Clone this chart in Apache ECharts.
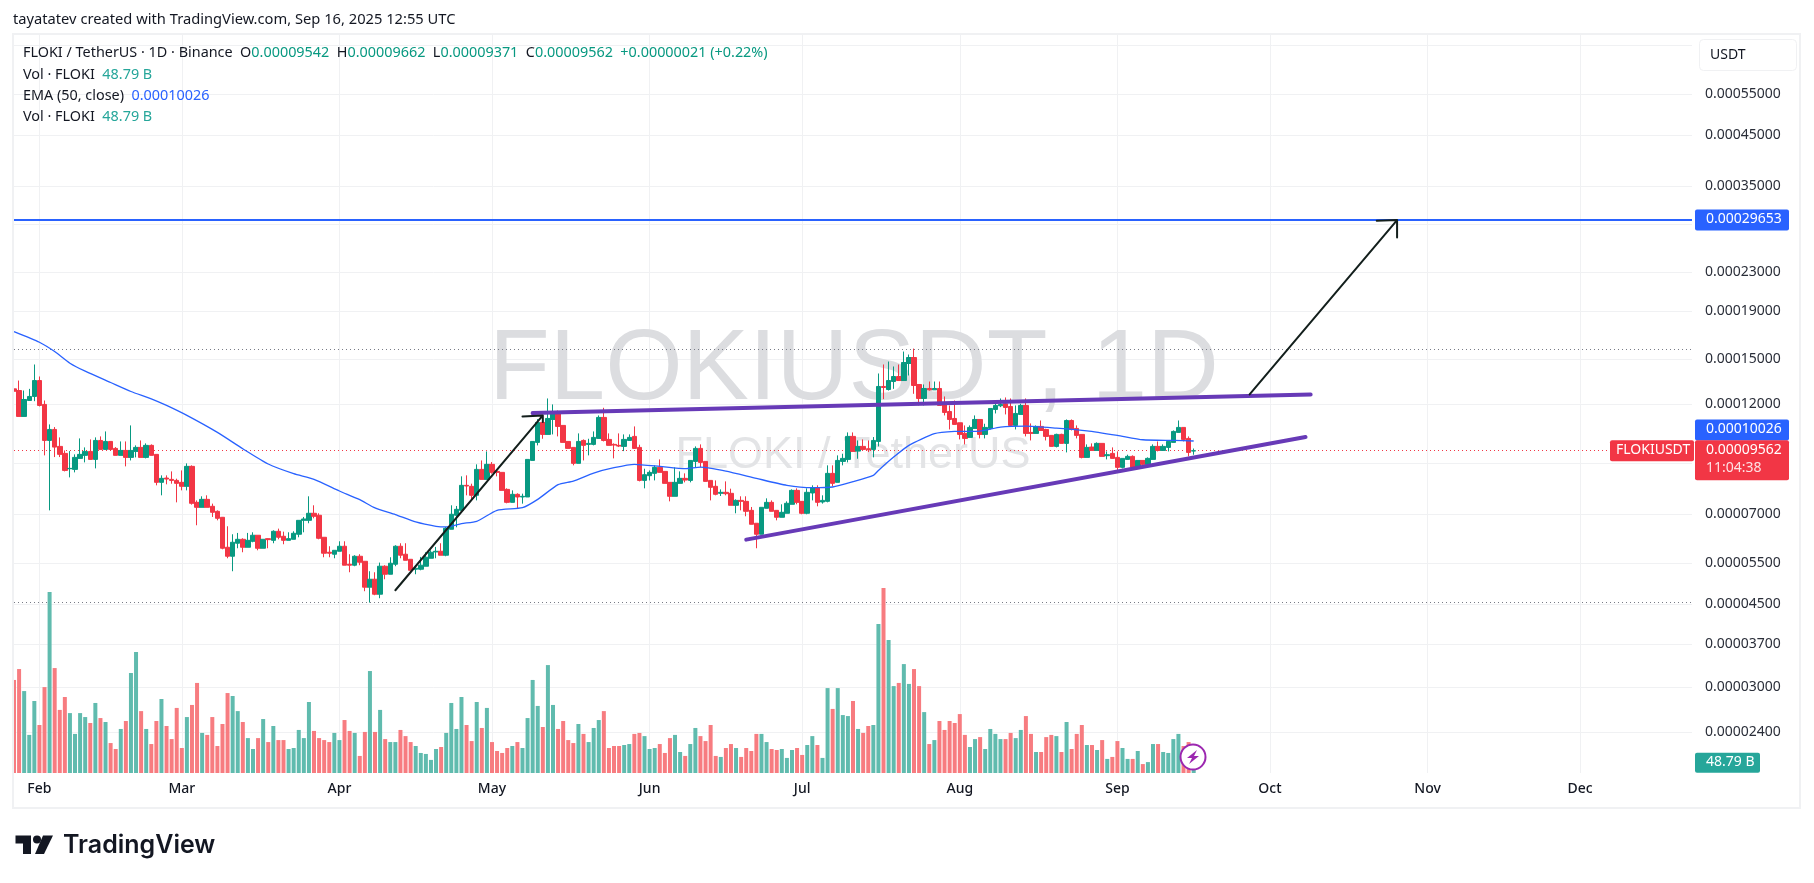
<!DOCTYPE html>
<html>
<head>
<meta charset="utf-8">
<title>FLOKIUSDT 1D</title>
<script src="https://cdn.jsdelivr.net/npm/echarts@6/dist/echarts.min.js"></script>
<style>
  html, body { margin: 0; padding: 0; background: #fff; }
  #line { width: 1814px; height: 883px; }
</style>
</head>
<body>
<div id="line"></div>
<script>
// prices are in units of 0.00000001, candle 0 is Jan 27 2025, last candle Sep 16
var openP = [12950,12845,11311,12231,12477,13490,11997,10053,10611,9764,9434,8750,
  8722,9206,9343,9526,9160,10053,9620,10005,9668,9343,9572,9251,
  9526,9716,9251,9813,9389,8184,8360,8304,8263,8184,8026,8852,
  7419,7240,7529,7276,7099,6894,5951,5694,6069,6188,5951,6128,
  6312,5922,6208,6157,6436,6281,6157,6188,6343,6792,6792,7031,
  6963,6250,5807,5751,5835,5981,5475,5449,5694,5555,4892,5086,
  4726,5422,5213,5475,5981,5751,5610,5342,5342,5422,5638,5816,
  5835,5723,6500,6963,7133,8065,8026,7679,8722,8304,8940,8636,
  8595,7907,7419,7717,7617,7617,9114,9957,10982,10356,11144,11478,
  10823,10005,9716,8983,10053,9861,9861,10154,11256,10104,9861,9813,
  9764,10053,10255,9716,8263,8456,8553,8809,8636,8184,7642,8144,
  8346,8263,9070,9668,9070,8263,8026,7755,7793,7755,7312,7491,
  7455,7133,6695,6343,7205,7419,7133,6894,7031,7348,7868,7455,
  7031,7768,7960,7431,7455,8553,8184,9070,9160,10255,9541,9764,
  9652,9620,10005,13103,12909,13425,13761,13490,14667,15104,13232,12354,
  12974,12888,12974,11997,11589,11200,10964,10407,10205,10664,11144,10356,
  10664,11704,11918,12036,11879,10823,11423,11938,10457,10407,10770,10611,
  10306,9764,10356,9909,11088,10664,10356,9251,9732,9572,9909,9328,
  9434,9251,8809,9160,9297,8809,9114,8940,9160,9764,9572,9716,
  9957,10457,10717,10154,9542];
var highP = [13060,13490,12845,12950,14595,13761,12231,10876,10735,10205,9572,9540,
  9389,10154,9716,10104,10205,10255,10508,10005,9730,10005,10005,10823,
  9813,10053,9909,9861,9389,8470,8470,8636,8332,8678,8983,8896,
  7491,7642,7679,7372,7133,6905,6597,6343,6385,6219,6385,6405,
  6312,6188,6219,6467,6521,6425,6405,6436,6792,6905,7642,7312,
  7031,6250,5981,5863,6128,6128,5751,5723,5751,5555,5290,5264,
  5520,5449,5666,6010,6069,6069,5610,5449,5675,5807,5863,5961,
  6069,6575,7312,7288,8429,8470,8130,8940,9114,9526,9041,8722,
  8595,7947,7868,7755,7742,9160,10005,11163,11274,12354,11997,11645,
  10823,10005,9716,10407,10104,10137,10508,11367,11801,10407,9909,10407,
  10356,10356,10770,9845,8751,8678,8896,9160,8636,8184,8809,8636,
  8553,9114,9764,9861,9070,8263,8263,7907,8223,7934,7529,7642,
  7642,7252,6695,7240,7566,7491,7133,7348,7455,7907,7947,7455,
  7947,8065,8065,7679,8896,8896,9343,9419,10457,10457,10053,10104,
  10053,10222,13965,14595,14809,14453,14595,15552,15328,15780,13232,13232,
  13425,13425,13425,12477,11938,12231,10964,10823,10823,11367,11144,10911,
  11762,12231,12354,12415,12354,11938,12036,12354,10929,10823,11088,10646,
  10306,10390,10390,11144,11144,10823,10356,9861,9909,9957,9909,9526,
  9716,9526,9206,9374,9343,9114,9114,9251,9861,10005,9861,10005,
  10558,11088,10717,10255,9662];
var lowP = [11590,11311,11311,12231,12190,11879,9343,7133,9265,9265,8636,8387,
  8595,9206,9027,9160,8765,9620,9620,9572,9343,9343,8852,9114,
  9251,9251,9206,9343,8065,7679,8105,8130,7419,7868,7868,7336,
  6630,7240,7240,6905,6792,5892,5638,5290,5922,5807,5951,6098,
  5863,5922,5922,6069,6188,6040,6157,6188,6250,6405,6695,6860,
  6188,5666,5666,5638,5835,5449,5264,5422,5449,4796,4536,4703,
  4634,5086,5213,5422,5638,5582,5315,5213,5315,5422,5638,5638,
  5723,5694,6500,6565,7133,7679,7529,7491,8304,8304,8540,8429,
  7868,7384,7419,7205,7372,7617,9114,9813,10137,10356,10356,10255,
  9957,9668,8896,8983,9114,9343,9813,10154,10005,9813,9206,9732,
  9541,10053,9668,8223,7947,8263,8263,8595,8144,7455,7642,8144,
  8184,8184,8809,8809,8223,7491,7679,7654,7679,7312,7031,7133,
  6928,6662,5922,6343,7205,7099,6792,6894,7031,7348,7348,6997,
  6997,7491,7276,7372,7419,8026,8184,8896,9027,9526,9190,9572,
  9495,9251,9764,12313,12845,12952,13490,13490,13829,12640,11938,11938,
  12845,12888,11938,11367,10611,10876,10104,9861,10205,10664,10154,10154,
  10611,11478,11840,11423,10770,10611,11423,10255,10053,10407,10558,10053,
  9764,9716,9909,9480,10558,10154,9206,9251,9572,9572,9297,9160,
  9206,8622,8765,9160,8765,8809,8896,8940,9160,9526,9572,9526,
  9957,10457,10005,9297,9371];
var closeP = [12800,11311,12292,12477,13490,11938,10053,10611,9730,9389,8678,8765,
  9251,9389,9526,9160,10053,9620,10005,9620,9343,9572,9251,9572,
  9716,9251,9813,9343,8184,8346,8318,8263,8144,8026,8852,7384,
  7240,7529,7240,7065,6860,5922,5694,6098,6188,5951,6157,6312,
  5922,6188,6178,6436,6250,6157,6208,6374,6792,6837,7031,6928,
  6219,5779,5779,5863,5981,5449,5449,5694,5529,4892,5086,4726,
  5422,5213,5502,5981,5723,5582,5315,5368,5449,5666,5807,5835,
  5723,6532,6997,7169,8065,8039,7679,8722,8304,8940,8595,8595,
  7868,7419,7717,7617,7642,9160,10005,10982,10356,11200,11478,10770,
  9957,9668,8983,10005,9813,9909,10205,11256,10053,9813,9829,9780,
  10104,10205,9668,8263,8498,8595,8809,8595,8144,7642,8184,8346,
  8277,9114,9668,9027,8223,7986,7717,7793,7742,7312,7491,7455,
  7099,6662,6343,7240,7419,7099,6894,7065,7384,7868,7419,7031,
  7793,7960,7419,7491,8553,8144,9114,9206,10255,9526,9764,9620,
  9604,10053,13103,13038,13490,13761,13490,14738,15104,13167,12354,12974,
  12888,12974,11938,11534,11144,10876,10356,10154,10717,11144,10356,10717,
  11762,11938,11997,11821,10823,11478,11938,10407,10407,10770,10558,10255,
  9764,10356,9909,11088,10611,10306,9251,9716,9572,9909,9297,9374,
  9206,8809,9206,9297,8809,9114,8940,9206,9764,9572,9764,10005,
  10508,10717,10104,9480,9562];
// volume in billions
var volumeB = [469,524,413,192,363,242,433,912,529,318,383,302,
  197,302,282,252,353,277,257,151,121,222,262,504,
  610,312,222,146,262,373,237,171,328,126,282,343,
  454,202,192,282,136,247,403,388,312,257,176,121,
  176,272,156,237,166,166,121,126,217,176,358,212,
  176,166,156,202,166,267,212,202,86,207,514,207,
  318,171,156,156,217,186,156,136,101,96,66,121,
  131,202,353,222,383,242,161,358,227,328,156,111,
  101,126,136,156,126,277,469,338,232,544,343,222,
  262,166,151,247,197,156,227,267,312,126,136,136,
  141,146,197,202,186,121,126,146,101,176,192,106,
  86,146,227,186,161,242,86,81,126,146,126,81,
  126,111,197,197,156,121,116,121,76,116,126,91,
  141,186,141,76,428,323,428,292,287,363,222,202,
  237,242,751,932,670,438,454,549,449,524,438,307,
  146,166,262,217,262,252,297,192,131,171,181,121,
  222,197,171,171,202,176,217,287,197,106,106,181,
  192,186,106,257,121,197,242,141,141,116,166,71,
  81,161,126,71,71,111,45,55,146,146,106,101,
  171,197,136,156,48.79];
// EMA (50, close), read at these candle numbers
var emaDays = [0,5,8,11,14,19,23,27,30,34,40,45,50,55,59,64,68,71,75,79,83,85,88,91,95,
  100,103,107,110,114,118,122,127,132,135,140,146,152,157,161,165,169,170,173,176,181,185,
  190,194,199,205,211,217,222,228,232];
var emaValues = [17155,16281,15552,14690,14122,13361,12784,12333,11938,11367,10457,9652,8954,8539,8304,7843,7516,7217,6986,6738,6597,6575,6684,6760,7133,
  7228,7529,8092,8236,8567,8794,8940,8852,8751,8823,8650,8346,8065,7973,8000,8210,8470,8678,9266,9813,10390,10508,
  10525,10735,10788,10681,10541,10306,10087,10053,10026];
// drawn lines: [candle number, price]
var resistanceLine = [[102,11497],[255,12599]];
var supportLine = [[144,6178],[254,10222]];
var arrowUp1 = [[75,4819],[104,11367],[100,11311],[104,11367],[104,11000]];
var arrowUp2 = [[243,12599],[272,29653],[268,29555],[272,29653],[272,27230]];

var targetPrice = 29653, lastPrice = 9562, emaLast = 10026, lastVolume = 48.79;
var highLine = 15755, lowLine = 4536;
var gridTicks = [70000,55000,45000,35000,29000,23000,19000,15000,12000,9000,7000,5500,4500,3700,3000,2400];
var tickLabels = [55000,45000,35000,23000,19000,15000,12000,7000,5500,4500,3700,3000,2400];
var monthNames = ['Jan','Feb','Mar','Apr','May','Jun','Jul','Aug','Sep','Oct','Nov','Dec'];

var upColor = '#089981', downColor = '#f23645';
var textFont = '"Noto Sans"';

// daily axis from Jan 27 to Dec 23
var days = [];
for (var d = 0; d < 331; d++) {
  var dt = new Date(Date.UTC(2025, 0, 27 + d));
  days.push(dt.toISOString().slice(0, 10));
}
function isMonthStart(index, value) {
  return value.slice(8) === '01';
}

var candleData = [], volumeData = [];
for (var i = 0; i < openP.length; i++) {
  candleData.push([openP[i], closeP[i], lowP[i], highP[i]]);
  volumeData.push({
    value: volumeB[i],
    itemStyle: { color: closeP[i] >= openP[i] ? '#60bbae' : '#f77c80' }
  });
}
var emaData = emaDays.map(function (day, k) { return [day, emaValues[k]]; });

function drawing(name, points, color, width) {
  return {
    name: name, type: 'line', data: points, xAxisIndex: 0, yAxisIndex: 0,
    symbol: 'none', silent: true, z: 5, clip: false,
    lineStyle: { color: color, width: width, cap: 'round', join: 'round' }
  };
}
function level(value, color, type, width) {
  return {
    yAxis: value, symbol: 'none', label: { show: false },
    lineStyle: { color: color, type: type, width: width }
  };
}

var myChart = echarts.init(document.getElementById('line'));
var option = {
  animation: false,
  backgroundColor: '#ffffff',
  grid: { left: 14, right: 122, top: 34, bottom: 110 },
  xAxis: {
    type: 'category', data: days, boundaryGap: false,
    axisLine: { show: false }, axisTick: { show: false },
    axisLabel: {
      interval: isMonthStart, color: '#131722', fontFamily: textFont, fontSize: 14, fontWeight: 500, margin: 9,
      formatter: function (v) { return monthNames[parseInt(v.slice(5, 7), 10) - 1]; }
    },
    splitLine: { show: true, interval: isMonthStart, lineStyle: { color: '#f0f1f3', width: 1 } }
  },
  yAxis: [{
    type: 'log', position: 'right', min: 1965, max: 73920,
    axisLine: { show: false },
    axisTick: { show: false, customValues: gridTicks },
    axisLabel: {
      customValues: tickLabels, color: '#2a2e39', fontFamily: textFont, fontSize: 14, margin: 13,
      formatter: function (v) { return (v / 1e8).toFixed(8); }
    },
    splitLine: { show: true, lineStyle: { color: '#f0f1f3', width: 1 } }
  }, {
    type: 'value', min: 0, max: 3725, show: false, splitLine: { show: false }
  }],
  series: [{
    name: 'Vol', type: 'bar', data: volumeData, yAxisIndex: 1, barWidth: 4, z: 2, clip: false
  }, {
    name: 'FLOKIUSDT', type: 'candlestick', data: candleData, yAxisIndex: 0, barWidth: 5, z: 3, clip: false,
    itemStyle: { color: upColor, color0: downColor, borderColor: upColor, borderColor0: downColor, borderWidth: 1 },
    markLine: {
      silent: true, symbol: 'none', animation: false, z: 1,
      data: [
        level(highLine, '#787b86', [1, 3], 1),
        level(lowLine, '#787b86', [1, 3], 1),
        level(lastPrice, downColor, [1, 3], 1),
        level(targetPrice, '#2962ff', 'solid', 2)
      ]
    }
  }, {
    name: 'EMA', type: 'line', data: emaData, yAxisIndex: 0, symbol: 'none', smooth: 0.2, z: 4, clip: false,
    lineStyle: { color: '#2962ff', width: 1.3 }
  },
    drawing('resistance', resistanceLine, '#673ab7', 4),
    drawing('support', supportLine, '#673ab7', 4),
    drawing('arrow1', arrowUp1, '#131f1c', 2),
    drawing('arrow2', arrowUp2, '#131f1c', 2)
  ]
};
myChart.setOption(option);

// a price tag box on the right axis, placed through the axis scale, shift moves it off a neighbour
function tag(yAxisIndex, value, shift, w, h, color, text, extra) {
  var x = 1695;
  var y = myChart.convertToPixel({ yAxisIndex: yAxisIndex }, value) + shift;
  return [
    { type: 'rect', z: 60, shape: { x: x, y: y - 10.5, width: w, height: h, r: 2 }, style: { fill: color } },
    { type: 'text', z: 61, style: { x: x + 11, y: y - 8, text: text, fill: '#fff', font: '14px ' + textFont } }
  ].concat(extra ? [{ type: 'text', z: 61, style: { x: x + 11, y: y + 10, text: extra, fill: '#fff', opacity: 0.85, font: '14px ' + textFont } }] : []);
}

var green = '#089981';
var legend1 = '{k|FLOKI / TetherUS · 1D · Binance  O}{g|0.00009542}{k|  H}{g|0.00009662}{k|  L}{g|0.00009371}{k|  C}{g|0.00009562}{g|  +0.00000021 (+0.22%)}';
var legendFont = '14.4px ' + textFont;
var rich = {
  k: { fill: '#131722', font: legendFont },
  g: { fill: green, font: legendFont },
  v: { fill: '#26a69a', font: legendFont },
  b: { fill: '#2962ff', font: legendFont }
};
function legendText(y, text) {
  return { type: 'text', z: 60, style: { x: 23, y: y, text: text, rich: rich, verticalAlign: 'middle' } };
}

var lastPriceY = myChart.convertToPixel({ yAxisIndex: 0 }, lastPrice);
var elements = [
  // watermarks
  { type: 'text', z: 0, style: { x: 854, y: 372, text: 'FLOKIUSDT, 1D', fill: '#dcdde0', font: '99.5px "Liberation Sans"', align: 'center', verticalAlign: 'middle' } },
  { type: 'text', z: 0, style: { x: 853, y: 456, text: 'FLOKI / TetherUS', fill: '#e3e4e6', font: '45px "Liberation Sans"', align: 'center', verticalAlign: 'middle' } },
  // frame around the pane
  { type: 'rect', z: 50, shape: { x: 0, y: 0, width: 13, height: 883 }, style: { fill: '#fff' } },
  { type: 'rect', z: 51, shape: { x: 13, y: 34, width: 1787, height: 774 }, style: { fill: 'none', stroke: '#f0f1f3', lineWidth: 2 } },
  // header
  { type: 'text', z: 60, style: { x: 13, y: 20, text: 'tayatatev created with TradingView.com, Sep 16, 2025 12:55 UTC', fill: '#131722', font: '14.7px ' + textFont, verticalAlign: 'middle' } },
  legendText(53, legend1),
  legendText(75, '{k|Vol · FLOKI  }{v|48.79 B}'),
  legendText(96, '{k|EMA (50, close)  }{b|0.00010026}'),
  legendText(117, '{k|Vol · FLOKI  }{v|48.79 B}'),
  // USDT button
  { type: 'rect', z: 60, shape: { x: 1699.5, y: 39.5, width: 97, height: 31, r: 4 }, style: { fill: '#fff', stroke: '#f0f1f3', lineWidth: 1 } },
  { type: 'text', z: 61, style: { x: 1710, y: 55, text: 'USDT', fill: '#131722', font: '14px ' + textFont, verticalAlign: 'middle' } },
  // FLOKIUSDT tag
  { type: 'rect', z: 60, shape: { x: 1610, y: lastPriceY - 10.5, width: 84, height: 21, r: 2 }, style: { fill: downColor } },
  { type: 'text', z: 61, style: { x: 1616, y: lastPriceY - 8, text: 'FLOKIUSDT', fill: '#fff', font: '14px ' + textFont } },
  // lightning icon
  { type: 'circle', z: 60, shape: { cx: 1193, cy: 757, r: 12.5 }, style: { fill: '#fff', stroke: '#9c27b0', lineWidth: 2 } },
  { type: 'polygon', z: 61, shape: { points: [[1197, 750], [1187, 758], [1192, 758], [1189, 764], [1199, 756], [1194, 756]] }, style: { fill: '#9c27b0' } },
  // TradingView logo
  { type: 'polygon', z: 60, shape: { points: [[15.5, 835.5], [31, 835.5], [31, 854], [23, 854], [23, 843.5], [15.5, 843.5]] }, style: { fill: '#131722' } },
  { type: 'circle', z: 60, shape: { cx: 37, cy: 839.5, r: 4 }, style: { fill: '#131722' } },
  { type: 'polygon', z: 60, shape: { points: [[43, 835.5], [53, 835.5], [44, 854], [35, 854]] }, style: { fill: '#131722' } },
  { type: 'text', z: 60, style: { x: 63, y: 845, text: 'TradingView', fill: '#131722', font: '600 25px Inter', verticalAlign: 'middle' } }
]
  .concat(tag(0, targetPrice, 0, 94, 21, '#2962ff', '0.00029653'))
  .concat(tag(0, emaLast, -11, 94, 21, '#2962ff', '0.00010026'))
  .concat(tag(0, lastPrice, 0, 94, 40, downColor, '0.00009562', '11:04:38'))
  .concat(tag(1, lastVolume, 0, 65, 20, '#26a69a', '48.79 B'));

myChart.setOption({ graphic: { elements: elements } });
</script>
</body>
</html>
